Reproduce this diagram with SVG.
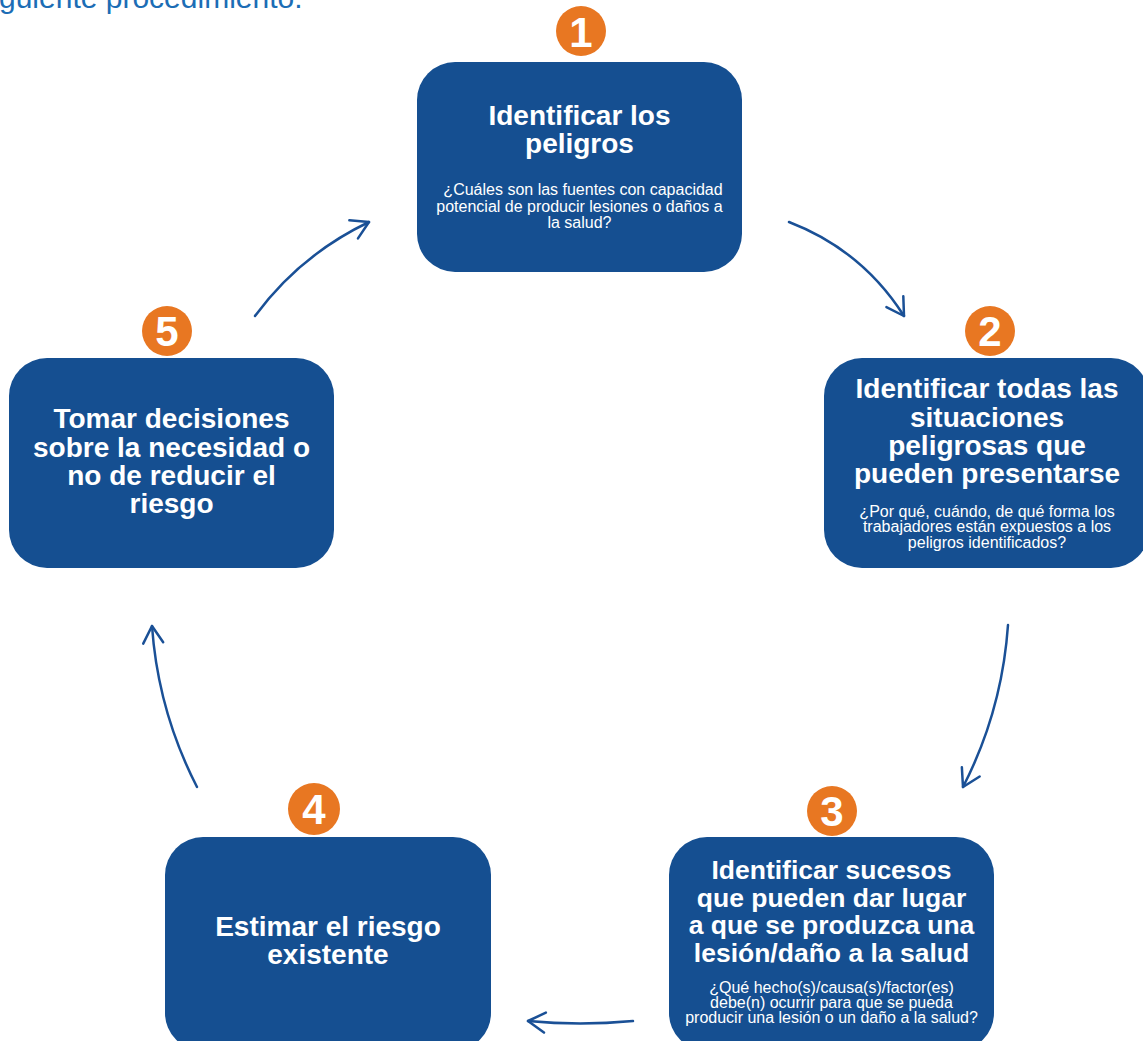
<svg xmlns="http://www.w3.org/2000/svg" width="1143" height="1041" viewBox="0 0 1143 1041">
<style>
.box{fill:#154f91}
.badge{fill:#e87722}
.num{fill:#fff;font-family:"Liberation Sans",Arial,sans-serif;font-weight:bold;font-size:42px;text-anchor:middle}
.t{fill:#fff;font-family:"Liberation Sans",Arial,sans-serif;font-weight:bold;font-size:28px;text-anchor:middle}
.s{fill:#fff;font-family:"Liberation Sans",Arial,sans-serif;font-size:16px;text-anchor:middle}
.conn{fill:none;stroke:#1a5096;stroke-width:2.5;stroke-linecap:round}
.hdr{fill:#1c6db5;font-family:"Liberation Sans",Arial,sans-serif;font-size:30px}
</style>
<defs>
<marker id="ah" markerUnits="userSpaceOnUse" markerWidth="40" markerHeight="40" viewBox="-25 -20 30 40" refX="0" refY="0" orient="auto" overflow="visible">
<path d="M-17,-10 L0,0 L-17,10" fill="none" stroke="#1a5096" stroke-width="2.5" stroke-linecap="round" stroke-linejoin="round"/>
</marker>
</defs>
<rect width="1143" height="1041" fill="#fff"/>
<text class="hdr" x="-1" y="8">guiente procedimiento.</text>

<g id="connectors">
<path class="conn" d="M789,222 Q862,250 904,316" marker-end="url(#ah)"/>
<path class="conn" d="M1008,625 Q1002,711 963,787" marker-end="url(#ah)"/>
<path class="conn" d="M633,1021 Q580,1026 528,1021" marker-end="url(#ah)"/>
<path class="conn" d="M197,787 Q158,711 152,626" marker-end="url(#ah)"/>
<path class="conn" d="M255,316 Q300,255 369,222" marker-end="url(#ah)"/>
</g>

<g id="node1">
<rect class="box" x="417" y="62" width="325" height="210" rx="38"/>
<circle class="badge" cx="581" cy="31" r="25"/>
<text class="num" x="581" y="47">1</text>
<text class="t" x="579.5" y="125">Identificar los</text>
<text class="t" x="579.5" y="153">peligros</text>
<text class="s" x="583" y="195">¿Cuáles son las fuentes con capacidad</text>
<text class="s" x="579.5" y="212">potencial de producir lesiones o daños a</text>
<text class="s" x="579.5" y="228">la salud?</text>
</g>

<g id="node2">
<rect class="box" x="824" y="358" width="325" height="210" rx="38"/>
<circle class="badge" cx="990" cy="331" r="25"/>
<text class="num" x="990" y="346">2</text>
<text class="t" x="987" y="398">Identificar todas las</text>
<text class="t" x="987" y="427">situaciones</text>
<text class="t" x="987" y="455">peligrosas que</text>
<text class="t" x="987" y="483">pueden presentarse</text>
<text class="s" x="987" y="517">¿Por qué, cuándo, de qué forma los</text>
<text class="s" x="987" y="532">trabajadores están expuestos a los</text>
<text class="s" x="987" y="548">peligros identificados?</text>
</g>

<g id="node3">
<rect class="box" x="669" y="837" width="325" height="214" rx="38"/>
<circle class="badge" cx="832" cy="811" r="25"/>
<text class="num" x="832" y="826">3</text>
<text class="t" x="831.5" y="879" style="font-size:26.5px">Identificar sucesos</text>
<text class="t" x="831.5" y="907" style="font-size:26.5px">que pueden dar lugar</text>
<text class="t" x="831.5" y="934" style="font-size:26.5px">a que se produzca una</text>
<text class="t" x="831.5" y="962" style="font-size:26.5px">lesión/daño a la salud</text>
<text class="s" x="831.5" y="993">¿Qué hecho(s)/causa(s)/factor(es)</text>
<text class="s" x="831.5" y="1008">debe(n) ocurrir para que se pueda</text>
<text class="s" x="831.5" y="1023">producir una lesión o un daño a la salud?</text>
</g>

<g id="node4">
<rect class="box" x="165" y="837" width="326" height="214" rx="38"/>
<circle class="badge" cx="314" cy="809" r="26"/>
<text class="num" x="314" y="824">4</text>
<text class="t" x="328" y="936">Estimar el riesgo</text>
<text class="t" x="328" y="964">existente</text>
</g>

<g id="node5">
<rect class="box" x="9" y="358" width="325" height="210" rx="38"/>
<circle class="badge" cx="167" cy="331" r="25"/>
<text class="num" x="167" y="346">5</text>
<text class="t" x="171.5" y="428">Tomar decisiones</text>
<text class="t" x="171.5" y="457">sobre la necesidad o</text>
<text class="t" x="171.5" y="485">no de reducir el</text>
<text class="t" x="171.5" y="513">riesgo</text>
</g>
</svg>
